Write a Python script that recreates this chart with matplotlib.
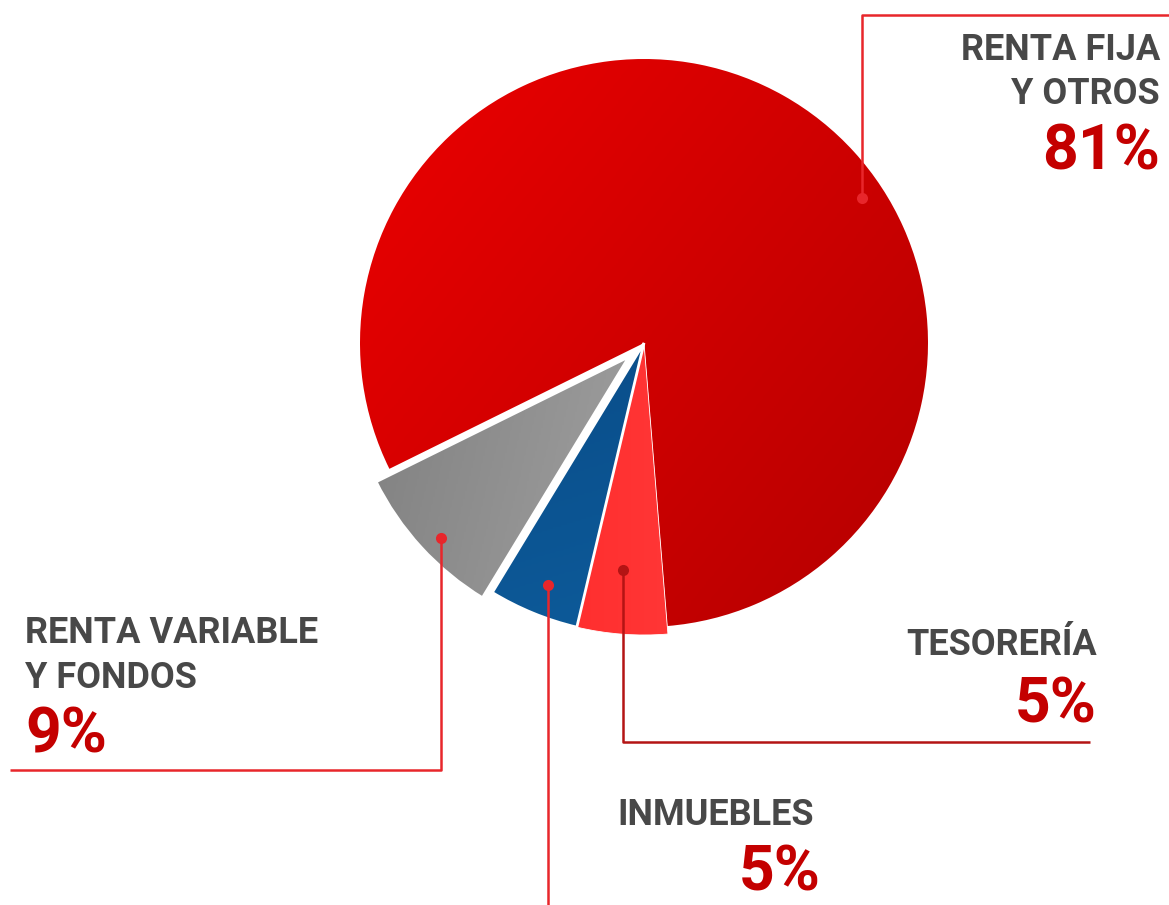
import numpy as np
import matplotlib
matplotlib.use("Agg")
import matplotlib.pyplot as plt
from matplotlib.colors import LinearSegmentedColormap

# ---- data ----
categories = ["RENTA FIJA\nY OTROS", "RENTA VARIABLE\nY FONDOS", "INMUEBLES", "TESORERÍA"]
values = [81, 9, 5, 5]
pct_labels = ["81%", "9%", "5%", "5%"]

# ---- layout / style ----
W, H = 1169, 905
def Y(py):
    return H - py

fig = plt.figure(figsize=(W / 100, H / 100), dpi=100)
ax = fig.add_axes([0, 0, 1, 1])

center = (644, Y(343))
wedges, _ = ax.pie(values, startangle=274.7, counterclock=True, radius=286,
                   center=center, explode=[0, 18, 0, 0],
                   colors=["#d40000", "#9a9a9a", "#0b5290", "#ff3030"],
                   wedgeprops=dict(edgecolor="white", linewidth=0))
radii = [284, 285, 292, 292]
edge_w = [0, 3.0, 2.0, 0.6]
grads = [("#ec0000", "#b40000", (1.0, -0.8)),
         ("#777777", "#bdbdbd", (1.0, -0.25)),
         ("#063f78", "#0e5e9e", (0.3, -1.0)),
         ("#ff1e1e", "#ff4a4a", (1.0, 0.0))]
for w, r, ew, (c1, c2, d) in zip(wedges, radii, edge_w, grads):
    w.set_radius(r)
    cx, cy = w.center
    n = 300
    xs = np.linspace(-1, 1, n)
    XX, YY = np.meshgrid(xs, xs)
    dv = np.array(d) / np.hypot(*d)
    T = (XX * dv[0] + YY * dv[1])
    T = (T - T.min()) / (T.max() - T.min())
    cmap = LinearSegmentedColormap.from_list("g", [c1, c2])
    im = ax.imshow(T, extent=[cx - r, cx + r, cy - r, cy + r], origin="lower",
                   cmap=cmap, interpolation="bilinear", zorder=0.5, aspect="auto")
    im.set_clip_path(w)
    w.set_facecolor("none")
    w.set_edgecolor("white")
    w.set_linewidth(ew)
    w.set_zorder(1)

# ---- leader lines ----
line_red = "#e8262b"
line_dark = "#b41414"
leaders = [
    ([862, 862, 1169], [198, 15, 15], line_red),
    ([441, 441, 10], [538, 770, 770], line_red),
    ([548, 548], [585, 905], line_red),
    ([623, 623, 1090], [570, 742, 742], line_dark),
]
for xs_, ys_, c in leaders:
    ax.plot(xs_, [Y(v) for v in ys_], color=c, lw=1.8, solid_capstyle="butt", zorder=2)
    ax.plot(xs_[0], Y(ys_[0]), "o", ms=8, color=c, mec="none", zorder=3)

# ---- labels ----
txt_gray = "#484848"
pct_red = "#c40000"
font = "Roboto"
lab_kw = dict(fontfamily=font, fontweight="bold", color=txt_gray, fontsize=26, va="baseline")
pct_kw = dict(fontfamily=font, fontweight="bold", color=pct_red, fontsize=45, va="baseline")

# Renta fija
l1, l2 = categories[0].split("\n")
ax.text(1160, Y(60), l1, ha="right", **lab_kw)
ax.text(1160, Y(104), l2, ha="right", **lab_kw)
ax.text(1160, Y(170), pct_labels[0], ha="right", **pct_kw)
# Renta variable
l1, l2 = categories[1].split("\n")
ax.text(25, Y(643), l1, ha="left", **lab_kw)
ax.text(25, Y(688), l2, ha="left", **lab_kw)
ax.text(25, Y(752), pct_labels[1], ha="left", **pct_kw)
# Inmuebles
ax.text(617, Y(825), categories[2], ha="left", **lab_kw)
ax.text(821, Y(890), pct_labels[2], ha="right", **pct_kw)
# Tesoreria
ax.text(1097, Y(655), categories[3], ha="right", **lab_kw)
ax.text(1097, Y(722), pct_labels[3], ha="right", **pct_kw)

ax.set_xlim(0, W)
ax.set_ylim(0, H)
ax.set_aspect("auto")
ax.axis("off")
fig.savefig("out.png", dpi=100, facecolor="white")
